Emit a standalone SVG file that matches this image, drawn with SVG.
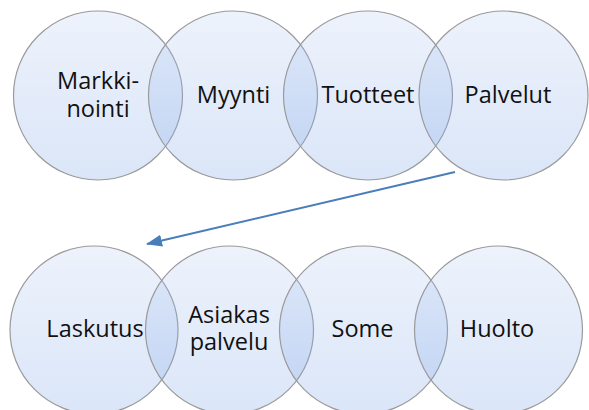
<svg xmlns="http://www.w3.org/2000/svg" width="589" height="410" viewBox="0 0 589 410">
<defs>
<linearGradient id="g" x1="0" y1="0" x2="0" y2="1">
<stop offset="0" stop-color="#b8ccf2"/>
<stop offset="1" stop-color="#6d9ae4"/>
</linearGradient>
<marker id="ah" viewBox="0 0 16 12" refX="15" refY="6" markerWidth="16" markerHeight="12" markerUnits="userSpaceOnUse" orient="auto">
<path d="M0,0 L16,6 L0,12 Z" fill="#4a7ebb"/>
</marker>
<style>
.c{fill:url(#g);fill-opacity:0.25;stroke:#9a9a9a;stroke-width:1.2}
.t{font-family:"Open Sans","DejaVu Sans",sans-serif;font-size:23.5px;fill:#111;text-anchor:middle}
.e{stroke:#4a7ebb;stroke-width:2;fill:none}
</style>
</defs>
<rect width="589" height="410" fill="#fff"/>
<g id="markkinointi"><circle class="c" cx="98" cy="95.5" r="84.5"/><text class="t" x="98" y="89">Markki-<tspan x="98" dy="28">nointi</tspan></text></g>
<g id="myynti"><circle class="c" cx="233" cy="95.5" r="84.5"/><text class="t" x="233.5" y="103">Myynti</text></g>
<g id="tuotteet"><circle class="c" cx="368" cy="95.5" r="84.5"/><text class="t" x="368" y="103">Tuotteet</text></g>
<g id="palvelut"><circle class="c" cx="503.5" cy="95.5" r="84.5"/><text class="t" x="508" y="103">Palvelut</text></g>
<g id="laskutus"><circle class="c" cx="94" cy="330" r="84"/><text class="t" x="95" y="337">Laskutus</text></g>
<g id="asiakaspalvelu"><circle class="c" cx="229.5" cy="330" r="84"/><text class="t" x="229" y="323">Asiakas<tspan x="229" dy="27">palvelu</tspan></text></g>
<g id="some"><circle class="c" cx="363.5" cy="330" r="84"/><text class="t" x="362.5" y="337">Some</text></g>
<g id="huolto"><circle class="c" cx="498.5" cy="330" r="84"/><text class="t" x="497" y="337">Huolto</text></g>
<g id="connectors"><line class="e" x1="455" y1="172" x2="147" y2="244" marker-end="url(#ah)"/></g>
</svg>
